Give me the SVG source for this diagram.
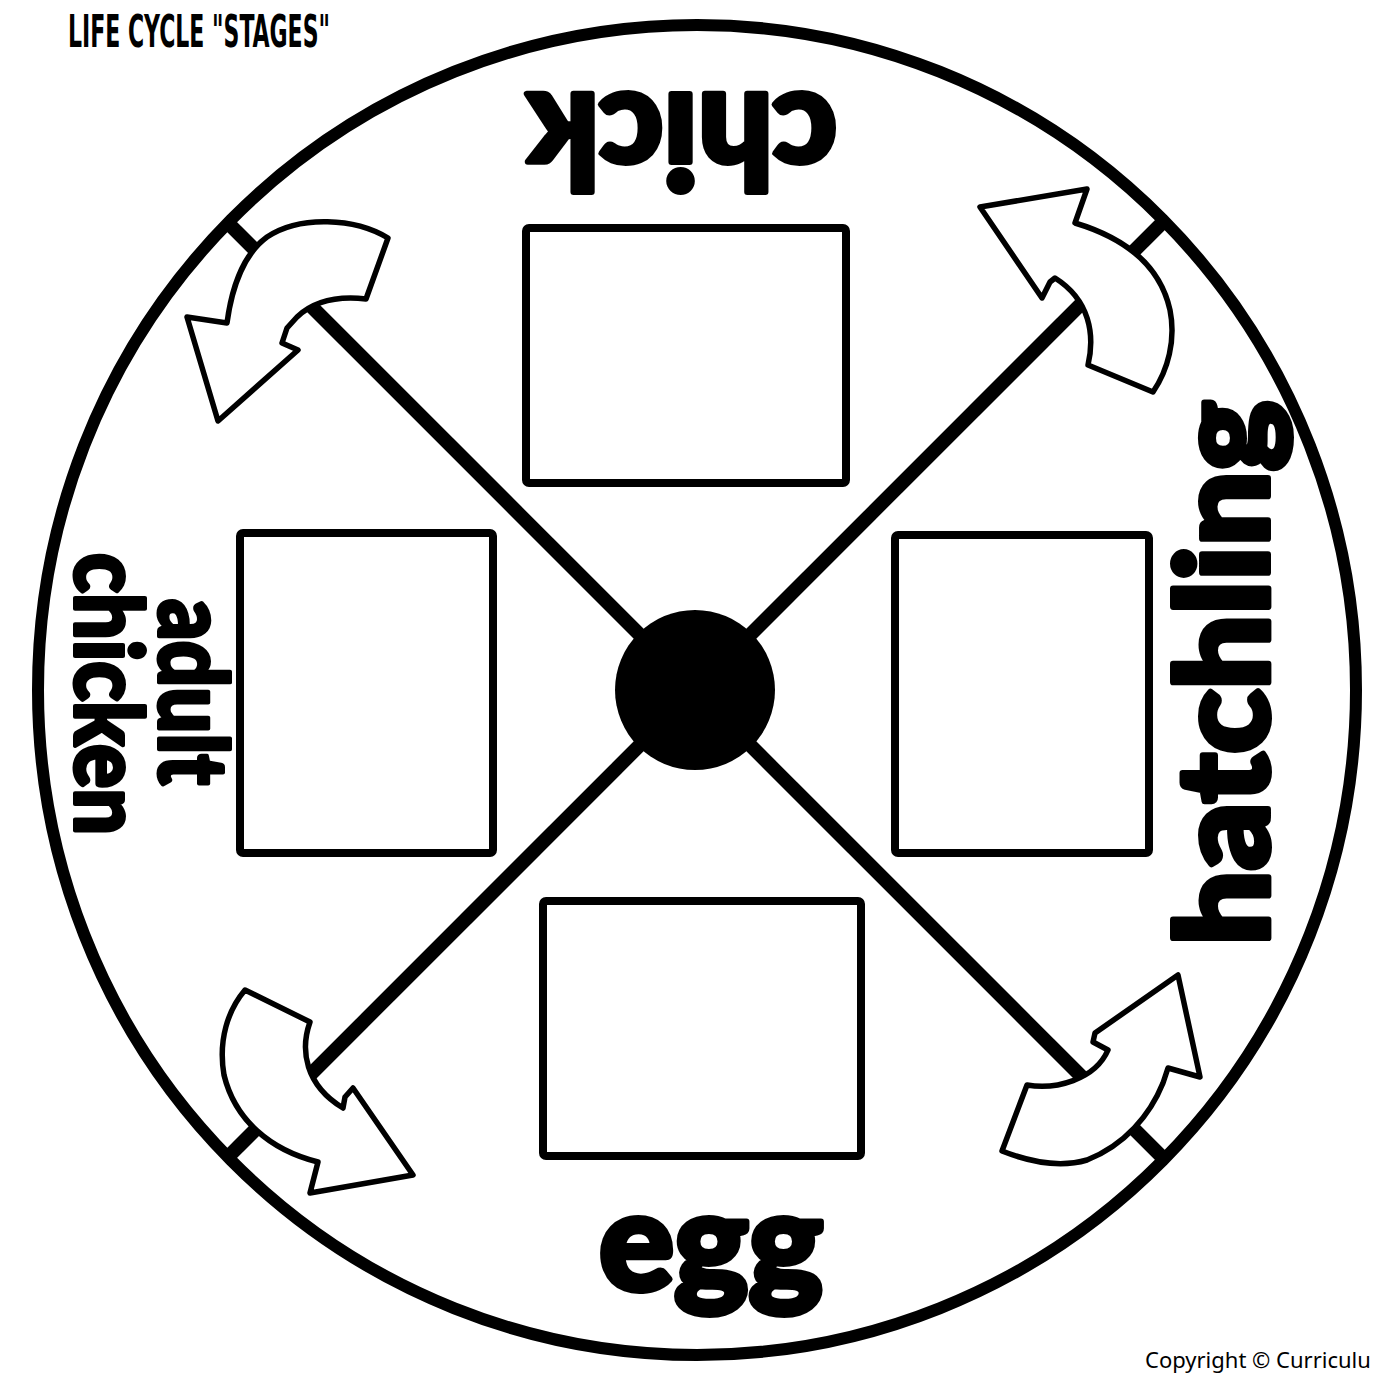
<svg xmlns="http://www.w3.org/2000/svg" width="1374" height="1376" viewBox="0 0 1374 1376">
  <style>
    .label { font-family: Lato, "Open Sans", "DejaVu Sans", sans-serif; font-weight: 900; fill: #000; stroke: #000; stroke-linejoin: round; }
    .big { stroke-width: 6; }
    .small { stroke-width: 4; }
    .box { fill: #fff; stroke: #000; stroke-width: 8; }
    .spoke { stroke: #000; stroke-width: 14; fill: none; }
    .arrow { fill: #fff; stroke: #000; stroke-width: 5.5; stroke-linejoin: round; }
    .title { font-family: "Liberation Sans Narrow", "DejaVu Sans Condensed", "Liberation Sans", sans-serif; font-weight: 700; fill: #000; }
    .copy { font-family: "Noto Sans", "Liberation Sans", sans-serif; fill: #000; }
  </style>
  <rect width="1374" height="1376" fill="#fff"/>
  <text class="title" x="68" y="47" font-size="45" textLength="262" lengthAdjust="spacingAndGlyphs">LIFE CYCLE "STAGES"</text>
  <ellipse id="wheel" cx="697" cy="690" rx="659" ry="665" fill="#fff" stroke="#000" stroke-width="12"/>
  <g id="connectors">
    <line class="spoke" x1="695" y1="690" x2="226" y2="221"/>
    <line class="spoke" x1="695" y1="690" x2="1164" y2="221"/>
    <line class="spoke" x1="695" y1="690" x2="1164" y2="1159"/>
    <line class="spoke" x1="695" y1="690" x2="226" y2="1159"/>
    <path class="arrow" d="M388,238 C355,218 300,215 267,237 C245,253 232,285 227,323 L187,317 L218,421 L298,350 L282,343 L287,328 L297,317 C315,300 340,296 366,299 Z"/>
    <path class="arrow" d="M980,207 L1087,189 L1075,223 C1125,238 1160,265 1170,310 C1176,340 1168,370 1153,392 L1088,365 C1095,335 1090,300 1055,278 L1050,282 L1042,298 Z"/>
    <path class="arrow" d="M1002,1151 L1027,1085 C1055,1090 1095,1080 1108,1050 L1093,1042 L1095,1033 L1178,975 L1200,1077 L1168,1068 L1163,1083 C1150,1115 1125,1145 1087,1160 C1060,1168 1030,1162 1002,1151 Z"/>
    <path class="arrow" d="M245,990 L310,1022 C300,1050 305,1085 343,1108 L345,1097 L353,1088 L413,1175 L310,1193 L318,1162 C270,1150 235,1120 224,1075 C218,1040 228,1010 245,990 Z"/>
  </g>
  <circle id="hub" cx="695" cy="690" r="80" fill="#000"/>
  <g id="stage-chick">
    <rect class="box" x="526" y="228" width="320" height="255" rx="3"/>
    <text class="label big" transform="translate(682,94) rotate(180)" text-anchor="middle" font-size="132" textLength="310" lengthAdjust="spacingAndGlyphs">chick</text>
  </g>
  <g id="stage-hatchling">
    <rect class="box" x="895" y="535" width="254" height="318" rx="3"/>
    <text class="label big" transform="translate(1268,673) rotate(-90)" text-anchor="middle" font-size="128" textLength="545" lengthAdjust="spacingAndGlyphs">hatchling</text>
  </g>
  <g id="stage-egg">
    <rect class="box" x="543" y="901" width="318" height="255" rx="3"/>
    <text class="label big" x="711" y="1290" text-anchor="middle" font-size="138" textLength="224" lengthAdjust="spacingAndGlyphs">egg</text>
  </g>
  <g id="stage-adult-chicken">
    <rect class="box" x="240" y="533" width="253" height="320" rx="3"/>
    <text class="label small" transform="translate(159,692) rotate(90)" text-anchor="middle" font-size="96" textLength="186" lengthAdjust="spacingAndGlyphs">adult</text>
    <text class="label small" transform="translate(75,694) rotate(90)" text-anchor="middle" font-size="93" textLength="282" lengthAdjust="spacingAndGlyphs">chicken</text>
  </g>
  <text class="copy" x="1145" y="1368" font-size="22">Copyright © Curriculu</text>
</svg>
